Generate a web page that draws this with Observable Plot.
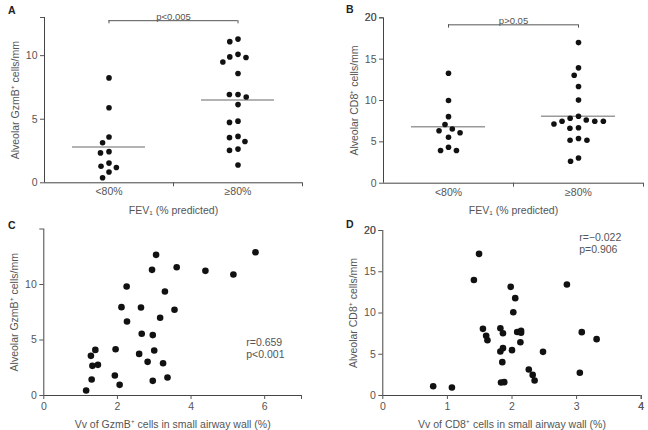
<!DOCTYPE html>
<html>
<head>
<meta charset="utf-8">
<script src="https://cdn.jsdelivr.net/npm/d3@7"></script>
<script src="https://cdn.jsdelivr.net/npm/@observablehq/plot@0.6"></script>
<style>
  html, body { margin: 0; padding: 0; background: #fff; }
  #fig { position: relative; width: 648px; height: 430px; background: #fff; font-family: "Liberation Sans", Arial, sans-serif; }
  .panel { position: absolute; width: 324px; height: 215px; }
  .letter { position: absolute; font-weight: bold; font-size: 10.5px; line-height: 10px; color: #222; }
</style>
</head>
<body>
<div id="fig">
  <div class="panel" id="pA" style="left:0;top:0"></div>
  <div class="panel" id="pB" style="left:324px;top:0"></div>
  <div class="panel" id="pC" style="left:0;top:215px"></div>
  <div class="panel" id="pD" style="left:324px;top:215px"></div>
  <div class="letter" style="left:8px;top:5px">A</div>
  <div class="letter" style="left:346px;top:4px">B</div>
  <div class="letter" style="left:8px;top:220px">C</div>
  <div class="letter" style="left:346px;top:219px">D</div>
</div>
<script>
// ---- Data ----
const groups = ["<80%", "≥80%"];
const fevLabel = "FEV₁ (% predicted)";

// Panel A: alveolar GzmB+ cells/mm by FEV1 group
const gzmbLow = [8.25, 5.9, 3.6, 3.15, 2.45, 2.35, 1.55, 1.3, 1.2, 0.85, 0.4];
const gzmbHigh = [11.3, 11.1, 10.1, 9.9, 9.85, 9.5, 8.6, 6.95, 6.95, 6.75, 6.15, 4.85, 4.75, 3.65, 3.55, 3.25, 2.65, 2.55, 1.4];
const gzmbP = "p<0.005";

// Panel B: alveolar CD8+ cells/mm by FEV1 group
const cd8Low = [13.3, 10.0, 8.05, 7.1, 6.55, 6.35, 6.1, 5.55, 4.35, 3.95, 3.95];
const cd8High = [17.0, 13.95, 13.05, 11.7, 10.05, 8.1, 7.85, 7.65, 7.5, 7.5, 7.5, 7.15, 6.7, 6.65, 5.4, 5.2, 5.2, 3.05, 2.65];
const cd8P = "p>0.05";

// Panel C: Vv of GzmB+ cells vs alveolar GzmB+ cells/mm
const vvGzmb = [3.05, 5.75, 2.94, 3.61, 4.39, 5.15, 2.25, 3.29, 2.11, 2.64, 3.55, 3.16, 2.26, 2.66, 2.96, 1.95, 1.40, 1.28, 2.59, 3.0, 1.47, 1.32, 2.82, 3.24, 1.93, 1.30, 3.36, 2.96, 2.06, 1.15];
const alvGzmb = [12.67, 12.9, 11.32, 11.56, 11.23, 10.9, 9.82, 9.37, 7.96, 7.93, 7.72, 7.0, 6.67, 5.56, 5.44, 4.17, 4.11, 3.57, 3.75, 4.05, 2.76, 2.67, 3.03, 2.91, 1.8, 1.44, 1.62, 1.32, 0.96, 0.45];
const statsC = ["r=0.659", "p<0.001"];

// Panel D: Vv of CD8+ cells vs alveolar CD8+ cells/mm
const vvCd8 = [1.49, 1.41, 1.98, 2.85, 2.05, 2.02, 1.55, 1.82, 1.60, 1.62, 1.86, 2.08, 2.14, 2.14, 2.13, 3.08, 3.31, 1.82, 1.86, 2.0, 2.48, 1.85, 2.26, 2.32, 2.35, 3.05, 1.83, 1.88, 0.78, 1.07];
const alvCd8 = [17.17, 14.0, 13.17, 13.45, 11.8, 10.1, 8.08, 8.16, 7.23, 6.7, 7.55, 7.7, 7.85, 7.6, 6.46, 7.68, 6.83, 5.33, 5.74, 5.5, 5.29, 4.04, 3.15, 2.5, 1.82, 2.75, 1.58, 1.62, 1.13, 0.97];
const statsD = ["r=−0.022", "p=0.906"];

// ---- Drawing ----
const FONT = "'Liberation Sans', Arial, sans-serif";
const AXIS = "#444";
const baseStyle = {fontFamily: FONT, fontSize: "10.5px", color: "#555", background: "transparent", overflow: "visible"};

function groupPanel({low, high, yMax, yTicks, yLabel, pText, bracketY, bracketTick, m}) {
  const rows = low.map(v => ({g: groups[0], v})).concat(high.map(v => ({g: groups[1], v})));
  const bracket = groups.map((g, i) => ({g, x1: i === 0 ? 0 : -1, x2: i === 0 ? 1 : 0}));
  return Plot.plot({
    width: 324, height: 215,
    marginLeft: m[0], marginRight: m[1], marginTop: m[2], marginBottom: m[3],
    style: baseStyle,
    fx: {domain: groups, padding: 0},
    x: {domain: [-1, 1]},
    y: {domain: [0, yMax]},
    marks: [
      Plot.ruleY([0], {stroke: AXIS}),
      Plot.ruleX([groups[0]], {fx: d => d, x: () => -1, y1: () => 0, y2: () => yMax, stroke: AXIS}),
      Plot.axisY({ticks: [...yTicks, yMax], tickFormat: d => yTicks.includes(d) ? d : "", tickSize: 4, tickPadding: 3,
        label: yLabel, labelAnchor: "center", labelArrow: "none", labelOffset: 33}),
      Plot.axisX({ticks: [1], tickFormat: () => "", tickSize: 4, label: null}),
      Plot.axisFx({anchor: "bottom", tickSize: 0, tickPadding: 5, label: fevLabel, labelAnchor: "center", labelOffset: 31}),
      Plot.tickY(rows, Plot.groupZ({y: "mean"}, {y: "v", fx: "g", stroke: "#9a9a9a", strokeWidth: 1.5, insetLeft: 28, insetRight: 28})),
      Plot.dot(rows, Plot.dodgeX({anchor: "middle", padding: 3}, {y: "v", fx: "g", r: 2.8, fill: "#111"})),
      Plot.ruleY(bracket, {fx: "g", y: () => bracketY, x1: "x1", x2: "x2", stroke: "#555"}),
      Plot.ruleX(groups, {fx: d => d, x: () => 0, y1: () => bracketY, y2: () => bracketTick, stroke: "#555"}),
      Plot.text([groups[0]], {fx: d => d, x: () => 1, y: () => bracketY, text: () => pText, lineAnchor: "bottom", dy: -1, fontSize: 9.5, fill: "#555"})
    ]
  });
}

function scatterPanel({xs, ys, xMax, xTicks, yMax, yTicks, xLabel, yLabel, stats, statsX, statsY, m}) {
  const rows = xs.map((x, i) => ({x, y: ys[i]}));
  return Plot.plot({
    width: 324, height: 215,
    marginLeft: m[0], marginRight: m[1], marginTop: m[2], marginBottom: m[3],
    style: baseStyle,
    x: {domain: [0, xMax]},
    y: {domain: [0, yMax]},
    marks: [
      Plot.ruleX([0], {stroke: AXIS}),
      Plot.ruleY([0], {stroke: AXIS}),
      Plot.axisX({ticks: [...xTicks, xMax], tickFormat: d => xTicks.includes(d) ? d : "", tickSize: 4, tickPadding: 3,
        label: xLabel, labelAnchor: "center", labelArrow: "none", labelOffset: 32}),
      Plot.axisY({ticks: [...yTicks, yMax], tickFormat: d => yTicks.includes(d) ? d : "", tickSize: 4, tickPadding: 3,
        label: yLabel, labelAnchor: "center", labelArrow: "none", labelOffset: 33}),
      Plot.dot(rows, {x: "x", y: "y", r: 3.3, fill: "#111"}),
      Plot.text([stats.join("\n")], {x: () => statsX, y: () => statsY, text: d => d, textAnchor: "start", lineAnchor: "top", lineHeight: 1.1, fontSize: 10.5, fill: "#555"})
    ]
  });
}

document.getElementById("pA").append(groupPanel({
  low: gzmbLow, high: gzmbHigh, yMax: 13, yTicks: [0, 5, 10],
  yLabel: "Alveolar GzmB⁺ cells/mm", pText: gzmbP, bracketY: 12.75, bracketTick: 12.5,
  m: [43, 22, 17, 32.7]
}));
document.getElementById("pB").append(groupPanel({
  low: cd8Low, high: cd8High, yMax: 20, yTicks: [0, 5, 10, 15, 20],
  yLabel: "Alveolar CD8⁺ cells/mm", pText: cd8P, bracketY: 19.15, bracketTick: 18.75,
  m: [58.3, 5, 17.3, 32.3]
}));
document.getElementById("pC").append(scatterPanel({
  xs: vvGzmb, ys: alvGzmb, xMax: 7, xTicks: [0, 2, 4, 6], yMax: 15, yTicks: [0, 5, 10],
  xLabel: "Vv of GzmB⁺ cells in small airway wall (%)", yLabel: "Alveolar GzmB⁺ cells/mm",
  stats: statsC, statsX: 5.5, statsY: 5.2,
  m: [43.3, 23, 13.5, 35]
}));
document.getElementById("pD").append(scatterPanel({
  xs: vvCd8, ys: alvCd8, xMax: 4, xTicks: [0, 1, 2, 3, 4], yMax: 20, yTicks: [0, 5, 10, 15, 20],
  xLabel: "Vv of CD8⁺ cells in small airway wall (%)", yLabel: "Alveolar CD8⁺ cells/mm",
  stats: statsD, statsX: 3.04, statsY: 19.7,
  m: [58.3, 7.3, 15, 35]
}));
</script>
</body>
</html>
